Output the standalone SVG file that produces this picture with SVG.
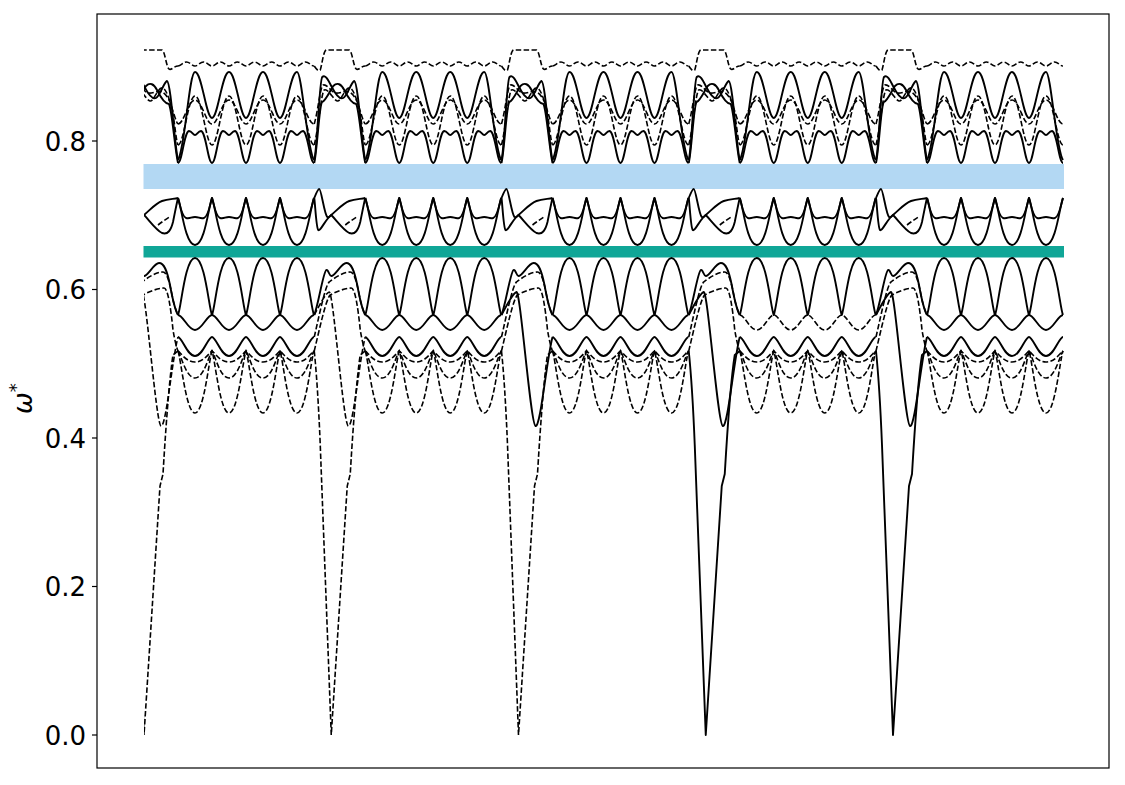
<svg xmlns="http://www.w3.org/2000/svg" width="1125" height="785" viewBox="0 0 1125 785">
<style>
.s{fill:none;stroke:#000;stroke-width:1.9;stroke-linejoin:round}
.d{fill:none;stroke:#000;stroke-width:1.6;stroke-dasharray:5.5 2.4}
.tick{stroke:#000;stroke-width:1.2}
.lbl{font-family:"DejaVu Sans","Liberation Sans",sans-serif;font-size:26px;fill:#000}
</style>
<defs>
<clipPath id="c0"><rect x="144" y="0" width="1000" height="785"/></clipPath>
<g id="reg">
<path class="d" d="M34,66 c3,0 5,-4 8.5,-4 c3.5,0 5.5,4 8.5,4 c3,0 5,-4 8.5,-4 c3.5,0 5.5,4 8.5,4 c3,0 5,-4 8.5,-4 c3.5,0 5.5,4 8.5,4 c3,0 5,-4 8.5,-4 c3.5,0 5.5,4 8.5,4 c3,0 5,-4 8.5,-4 c3.5,0 5.5,4 8.5,4 c3,0 5,-4 8.5,-4 c3.5,0 5.5,4 8.5,4 c3,0 5,-4 8.5,-4 c3.5,0 5.5,4 8.5,4 c3,0 5,-4 8.5,-4 c3.5,0 5.5,4 8.5,4"/>
<path class="s" d="M34,160 C41,150 45,72 51,72 C58,72 62,118 68,118 c6,0 10,-46 17,-46 c7,0 11,46 17,46 c6,0 10,-46 17,-46 c7,0 11,46 17,46 c6,0 10,-46 17,-46 C158,72 163,150 170,160"/>
<path class="s" d="M34,163 c4,0 6,-31 11,-32 c3,0 4,4 6,4 c2,0 3,-4 6,-4 c5,1 7,32 11,32 c4,0 6,-31 11,-32 c3,0 4,4 6,4 c2,0 3,-4 6,-4 c5,1 7,32 11,32 c4,0 6,-31 11,-32 c3,0 4,4 6,4 c2,0 3,-4 6,-4 c5,1 7,32 11,32 c4,0 6,-31 11,-32 c3,0 4,4 6,4 c2,0 3,-4 6,-4 c5,1 7,32 11,32"/>
<path class="d" d="M34,145 c6,0 10,-49 17,-49 c7,0 11,49 17,49 c6,0 10,-49 17,-49 c7,0 11,49 17,49 c6,0 10,-49 17,-49 c7,0 11,49 17,49 c6,0 10,-49 17,-49 c7,0 11,49 17,49"/>
<path class="d" d="M34,124 c6,0 10,-24 17,-24 c7,0 11,24 17,24 c6,0 10,-24 17,-24 c7,0 11,24 17,24 c6,0 10,-24 17,-24 c7,0 11,24 17,24 c6,0 10,-24 17,-24 c7,0 11,24 17,24"/>
<path class="s" d="M34,198 c3,6 7,47 17,47 c10,0 14,-41 17,-47 c3,6 7,47 17,47 c10,0 14,-41 17,-47 c3,6 7,47 17,47 c10,0 14,-41 17,-47 c3,6 7,47 17,47 c10,0 14,-41 17,-47"/>
<path class="s" d="M34,198 c2,7 4,19 8,20 c4,1 5,-1 9,-1 c4,0 5,2 9,1 c4,-1 6,-13 8,-20 c2,7 4,19 8,20 c4,1 5,-1 9,-1 c4,0 5,2 9,1 c4,-1 6,-13 8,-20 c2,7 4,19 8,20 c4,1 5,-1 9,-1 c4,0 5,2 9,1 c4,-1 6,-13 8,-20 c2,7 4,19 8,20 c4,1 5,-1 9,-1 c4,0 5,2 9,1 c4,-1 6,-13 8,-20"/>
<path class="s" d="M34,315 c3,-6 7,-57 17,-57 c10,0 14,51 17,57 c3,-6 7,-57 17,-57 c10,0 14,51 17,57 c3,-6 7,-57 17,-57 c10,0 14,51 17,57 c3,-6 7,-57 17,-57 c10,0 14,51 17,57"/>
<path class="s" d="M34,337 c4,0 9,19 17,19 c8,0 13,-19 17,-19 c4,0 9,19 17,19 c8,0 13,-19 17,-19 c4,0 9,19 17,19 c8,0 13,-19 17,-19 c4,0 9,19 17,19 c8,0 13,-19 17,-19"/>
<path class="d" d="M34,351 c3,2 8,11 17,11 c9,0 14,-9 17,-11 c3,2 8,11 17,11 c9,0 14,-9 17,-11 c3,2 8,11 17,11 c9,0 14,-9 17,-11 c3,2 8,11 17,11 c9,0 14,-9 17,-11"/>
<path class="d" d="M34,351 c3,4 8,27 17,27 c9,0 14,-23 17,-27 c3,4 8,27 17,27 c9,0 14,-23 17,-27 c3,4 8,27 17,27 c9,0 14,-23 17,-27 c3,4 8,27 17,27 c9,0 14,-23 17,-27"/>
<path class="d" d="M34,351 c3,8 8,62 17,62 c9,0 14,-54 17,-62 c3,8 8,62 17,62 c9,0 14,-54 17,-62 c3,8 8,62 17,62 c9,0 14,-54 17,-62 c3,8 8,62 17,62 c9,0 14,-54 17,-62"/>
</g>
<path id="F" d="M34,315 c5,0 10,15 17,15 c7,0 12,-15 17,-15 c5,0 10,15 17,15 c7,0 12,-15 17,-15 c5,0 10,15 17,15 c7,0 12,-15 17,-15 c5,0 10,15 17,15 c7,0 12,-15 17,-15"/>
<g id="trc">
<path class="d" d="M-17,66 C-15,69 -13,72 -11,70 C-9,64 -8,51 -5,50 L18,50 C21,51 22,66 25,69 C27,71 30,66 34,66"/>
<path class="s" d="M-17,160 C-14,150 -12,80 -9,77 C-6,74 -3,80 0,86 C3,92 8,100 12,98 C16,96 20,82 23,81 C27,82 31,150 34,160"/>
<path class="s" d="M-17,163 C-14,150 -12,104 -9,102 C-5,100 -1,90 2,86 C6,82 10,84 13,90 C17,98 21,104 25,104 C28,110 31,150 34,163"/>
<path class="d" d="M-17,145 C-13,130 -10,92 -7,90 C-3,88 2,100 6,101 C10,102 14,86 19,88 C23,90 27,104 29,115 C31,125 32,140 34,145"/>
<path class="d" d="M-17,124 C-13,110 -11,86 -8,85 C-4,84 0,92 4,93 C8,94 14,90 18,92 C22,94 26,100 28,108 C30,114 32,122 34,124"/>
<path class="s" d="M-17,198 C-15,193 -13,189 -12,189 C-10,189 -7,214 -4,217 C-2,218 -1,216 0,215 C6,210 12,203 18,201 C24,199 30,199 34,198"/>
<path class="s" d="M-17,198 C-16,205 -15,228 -13,230 C-11,232 -5,218 0,215 C5,220 12,230 18,233 C24,235 27,230 29,222 C31,212 33,202 34,198"/>
<path class="d" d="M14,225 C18,222 22,219 27,216"/>
<path class="s" d="M-17,315 C-13,305 -8,272 -5,270 C-3,269 -2,276 0,276 C4,276 10,263 15,263 C20,263 23,270 26,285 C28,296 31,310 34,315"/>
<path class="d" d="M-17,337 C-13,320 -6,285 -2,282 C3,278 12,272 19,272 C24,272 27,290 29,300 C31,308 33,313 34,315"/>
<path class="d" d="M-17,351 C-12,330 -5,298 -1,295 C4,292 14,288 20,288 C24,288 27,310 29,330 C31,342 33,349 34,351"/>
</g>
<path id="dip" d="M-17,315 C-12,306 -6,293 -2,292 C2,291 12,424 17,426 C22,428 28,360 34,337"/>
<path id="spike" d="M-17,351 C-14,380 -12,420 -11,445 L0,735 L16,486 L19,474 C21,440 25,380 29,355 L34,351"/>
</defs>
<rect x="143.5" y="164" width="920.5" height="25" fill="#b3d8f3"/>
<rect x="143.5" y="246" width="920.5" height="11.5" fill="#10a697"/>
<g id="connectors">
<g id="cell0" clip-path="url(#c0)"><g transform="translate(144,0)">
<use href="#reg"/><use href="#trc"/><use href="#F" class="s"/><use href="#dip" class="d"/><use href="#spike" class="d"/>
</g></g>
<g id="cell1" transform="translate(331.25,0)">
<use href="#reg"/><use href="#trc"/><use href="#F" class="s"/><use href="#dip" class="d"/><use href="#spike" class="d"/>
</g>
<g id="cell2" transform="translate(518.5,0)">
<use href="#reg"/><use href="#trc"/><use href="#F" class="s"/><use href="#dip" class="s"/><use href="#spike" class="d"/>
</g>
<g id="cell3" transform="translate(705.75,0)">
<use href="#reg"/><use href="#trc"/><use href="#F" class="d"/><use href="#dip" class="s"/><use href="#spike" class="s"/>
</g>
<g id="cell4" transform="translate(893,0)">
<use href="#reg"/><use href="#trc"/><use href="#F" class="s"/><use href="#dip" class="s"/><use href="#spike" class="s"/>
</g>
</g>
<g id="axes">
<rect x="97" y="14" width="1012" height="754" fill="none" stroke="#000" stroke-width="1.2"/>
<line class="tick" x1="92" y1="735" x2="97" y2="735"/>
<line class="tick" x1="92" y1="586.5" x2="97" y2="586.5"/>
<line class="tick" x1="92" y1="438" x2="97" y2="438"/>
<line class="tick" x1="92" y1="289.5" x2="97" y2="289.5"/>
<line class="tick" x1="92" y1="141" x2="97" y2="141"/>
<text class="lbl" x="86" y="744.5" text-anchor="end">0.0</text>
<text class="lbl" x="86" y="596" text-anchor="end">0.2</text>
<text class="lbl" x="86" y="447.5" text-anchor="end">0.4</text>
<text class="lbl" x="86" y="299" text-anchor="end">0.6</text>
<text class="lbl" x="86" y="150.5" text-anchor="end">0.8</text>
<text class="lbl" transform="translate(32,414) rotate(-90)" font-style="italic">ω<tspan dy="-10" font-size="18" font-style="normal">*</tspan></text>
</g>
</svg>
